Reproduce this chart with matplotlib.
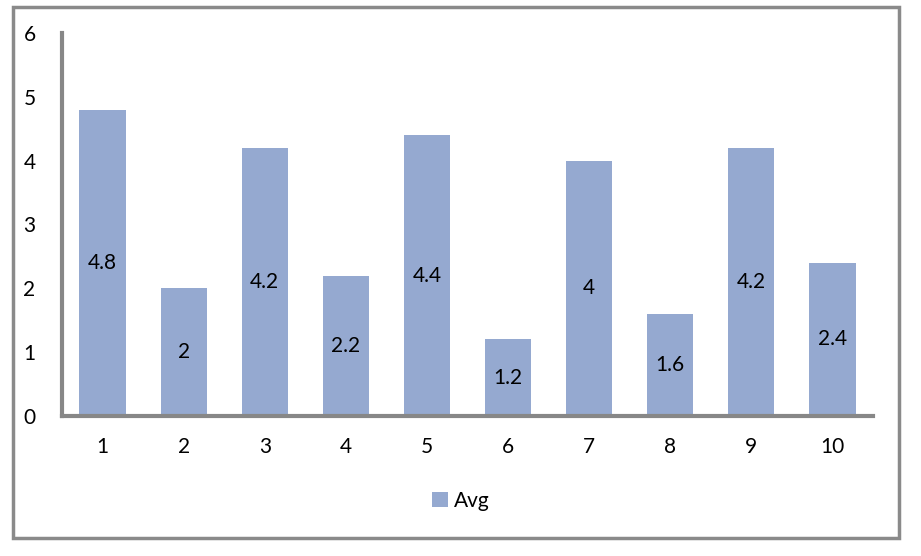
import matplotlib
matplotlib.use("Agg")
import matplotlib.pyplot as plt
from matplotlib.patches import Rectangle, Patch

categories = ["1", "2", "3", "4", "5", "6", "7", "8", "9", "10"]
avg = [4.8, 2, 4.2, 2.2, 4.4, 1.2, 4, 1.6, 4.2, 2.4]
labels = ["4.8", "2", "4.2", "2.2", "4.4", "1.2", "4", "1.6", "4.2", "2.4"]
series_name = "Avg"

plt.rcParams['font.family'] = ['Lato', 'DejaVu Sans']
bar_color = "#95A9D0"
spine_color = "#878787"
fs = 15

fig = plt.figure(figsize=(9.21, 5.56), dpi=100)
fig.patch.set_facecolor("white")
# outer border
fig.add_artist(Rectangle((13/921, 1 - 538/556), (899-13)/921, (538-7)/556,
                         transform=fig.transFigure, fill=False,
                         edgecolor="#8a8a8a", linewidth=2.5))

ax = fig.add_axes([62/921, 1 - 416/556, (873-62)/921, (416-33)/556])
x = list(range(len(categories)))
bars = ax.bar(x, avg, width=0.57, color=bar_color, edgecolor="none")
for xi, v, lab in zip(x, avg, labels):
    ax.text(xi, v / 2, lab, ha="center", va="center", fontsize=fs, color="black")

ax.set_xlim(-0.5, len(categories) - 0.5)
ax.set_ylim(0, 6)
ax.set_yticks(range(0, 7))
ax.set_xticks(x)
ax.set_xticklabels(categories)
ax.tick_params(axis="both", length=0, labelsize=fs, colors="black")
ax.tick_params(axis="y", pad=19)
ax.tick_params(axis="x", pad=15)
for s in ["top", "right"]:
    ax.spines[s].set_visible(False)
for s in ["left", "bottom"]:
    ax.spines[s].set_color(spine_color)
    ax.spines[s].set_linewidth(3)

leg = fig.legend(handles=[Patch(facecolor=bar_color, edgecolor="none", label=series_name)],
                 loc="center", bbox_to_anchor=(461/921, 1 - 501/556), frameon=False,
                 fontsize=fs, handlelength=0.75, handleheight=0.75, handletextpad=0.3)

fig.savefig("out.png", dpi=100)
